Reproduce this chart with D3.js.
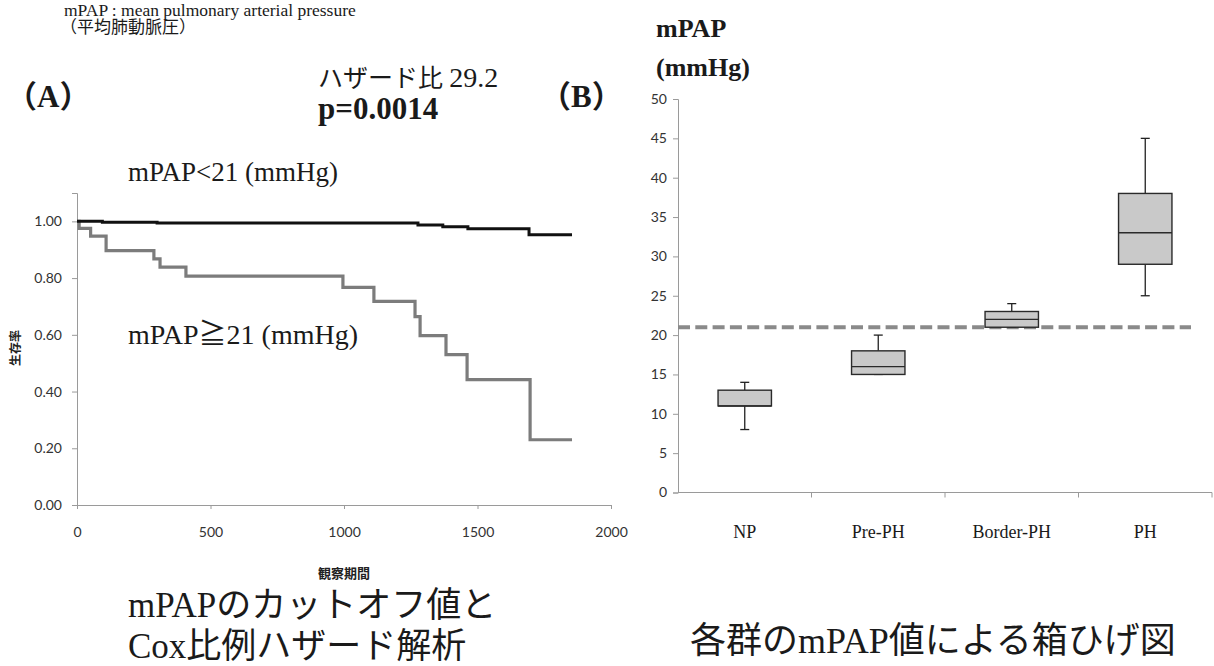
<!DOCTYPE html>
<html>
<head>
<meta charset="utf-8">
<script src="https://cdn.jsdelivr.net/npm/d3@7"></script>
<style>
  html, body { margin: 0; padding: 0; background: #fff; }
  svg { display: block; }
  .serif { font-family: "Liberation Serif", "Noto Sans CJK JP", serif; fill: #1a1a1a; }
  .tick text { font-family: Lato, "Open Sans", sans-serif; fill: #333; }
  .jp-bold { font-family: "Noto Sans CJK JP", sans-serif; font-weight: 700; fill: #222; }
</style>
</head>
<body>
<svg id="chart" width="1214" height="666"></svg>
<script>
// ---- Panel A: Kaplan–Meier survival, split at mPAP 21 mmHg ----
const lowDays  = [0, 95, 300, 1277, 1370, 1464, 1693, 1854];
const lowSurv  = [1.000, 0.997, 0.994, 0.987, 0.981, 0.974, 0.953, 0.953];
const highDays = [0, 8, 51, 109, 288, 311, 408, 996, 1112, 1266, 1285, 1382, 1461, 1697, 1854];
const highSurv = [1.000, 0.975, 0.948, 0.897, 0.868, 0.839, 0.807, 0.767, 0.718, 0.664, 0.597, 0.530, 0.442, 0.230, 0.230];
const survTicks = [0, 0.2, 0.4, 0.6, 0.8, 1.0];
const dayTicks  = [0, 500, 1000, 1500, 2000];

// ---- Panel B: mPAP distribution per group ----
const groups    = ["NP", "Pre-PH", "Border-PH", "PH"];
const whiskerLo = [8, 15, 21, 25];
const q1        = [11, 15, 21, 29];
const median    = [11, 16, 22, 33];
const q3        = [13, 18, 23, 38];
const whiskerHi = [14, 20, 24, 45];
const mpapTicks = [0, 5, 10, 15, 20, 25, 30, 35, 40, 45, 50];
const cutoff    = 21;

const svg = d3.select("#chart");

// ---------- Panel A ----------
const xA = d3.scaleLinear().domain([0, 2000]).range([77, 611]);
const yA = d3.scaleLinear().domain([0, 1.1]).range([505, 193]);

const axisA_y = svg.append("g").attr("transform", `translate(${xA(0)},0)`)
  .call(d3.axisLeft(yA).tickValues(survTicks).tickFormat(d3.format(".2f")).tickSize(5).tickPadding(10));
const axisA_x = svg.append("g").attr("transform", `translate(0,${yA(0)})`)
  .call(d3.axisBottom(xA).tickValues(dayTicks).tickFormat(d3.format("d")).tickSize(4).tickPadding(18));
[axisA_y, axisA_x].forEach(g => {
  g.select(".domain").attr("stroke", "#9a9a9a").attr("stroke-width", 1);
  g.selectAll(".tick line").attr("stroke", "#9a9a9a");
  g.selectAll(".tick text").style("font-size", "14px");
});

const kmLine = d3.line().curve(d3.curveStepAfter).x(d => xA(d[0])).y(d => yA(d[1]));
svg.append("path")
  .datum(d3.zip(highDays, highSurv))
  .attr("d", kmLine).attr("fill", "none")
  .attr("stroke", "#7c7c7c").attr("stroke-width", 3.2);
svg.append("path")
  .datum(d3.zip(lowDays, lowSurv))
  .attr("d", kmLine).attr("fill", "none")
  .attr("stroke", "#111").attr("stroke-width", 3);

svg.append("text").attr("class", "jp-bold")
  .attr("transform", "translate(20,348) rotate(-90)")
  .attr("text-anchor", "middle").style("font-size", "12px").text("生存率");
svg.append("text").attr("class", "jp-bold")
  .attr("x", xA(1000)).attr("y", 578).attr("text-anchor", "middle")
  .style("font-size", "13px").text("観察期間");

svg.append("text").attr("class", "serif").attr("x", 128).attr("y", 181)
  .style("font-size", "27px").text("mPAP<21 (mmHg)");
svg.append("text").attr("class", "serif").attr("x", 128).attr("y", 344)
  .style("font-size", "28px").text("mPAP≧21 (mmHg)");

svg.append("text").attr("class", "serif").attr("x", 6).attr("y", 107)
  .style("font-size", "31px").style("font-weight", "700").text("（A）");
svg.append("text").attr("class", "serif").attr("x", 318).attr("y", 87)
  .style("font-size", "25px").text("ハザード比 ")
  .append("tspan").style("font-size", "28px").text("29.2");
svg.append("text").attr("class", "serif").attr("x", 318).attr("y", 119)
  .style("font-size", "31px").style("font-weight", "700").text("p=0.0014");
svg.append("text").attr("class", "serif").attr("x", 540).attr("y", 107)
  .style("font-size", "31px").style("font-weight", "700").text("（B）");

svg.append("text").attr("class", "serif").attr("x", 64).attr("y", 16)
  .style("font-size", "17.5px").text("mPAP : mean pulmonary arterial pressure");
svg.append("text").attr("class", "serif").attr("x", 60).attr("y", 33)
  .style("font-size", "17px").text("（平均肺動脈圧）");

svg.append("text").attr("class", "serif").attr("x", 128).attr("y", 617)
  .style("font-size", "35px").text("mPAPのカットオフ値と");
svg.append("text").attr("class", "serif").attr("x", 128).attr("y", 658)
  .style("font-size", "35px").text("Cox比例ハザード解析");

// ---------- Panel B ----------
const xB = d3.scaleBand().domain(groups).range([678, 1212]).padding(0);
const yB = d3.scaleLinear().domain([0, 50]).range([492.5, 99]);

const axisB_y = svg.append("g").attr("transform", `translate(${xB.range()[0]},0)`)
  .call(d3.axisLeft(yB).tickValues(mpapTicks).tickSize(5).tickPadding(6));
axisB_y.select(".domain").attr("stroke", "#9a9a9a");
axisB_y.selectAll(".tick line").attr("stroke", "#9a9a9a");
axisB_y.selectAll(".tick text").style("font-size", "14px");

const axisB_x = svg.append("g").attr("transform", `translate(0,${yB(0)})`);
axisB_x.append("line").attr("x1", xB.range()[0]).attr("x2", xB.range()[1])
  .attr("stroke", "#9a9a9a");
axisB_x.selectAll("line.sep").data(groups).join("line").attr("class", "sep")
  .attr("x1", d => xB(d) + xB.bandwidth()).attr("x2", d => xB(d) + xB.bandwidth())
  .attr("y1", 0).attr("y2", 5).attr("stroke", "#9a9a9a");
axisB_x.selectAll("text").data(groups).join("text").attr("class", "serif")
  .attr("x", d => xB(d) + xB.bandwidth() / 2).attr("y", 45)
  .attr("text-anchor", "middle").style("font-size", "18px").text(d => d);

// cutoff reference line
svg.append("line")
  .attr("x1", xB.range()[0]).attr("x2", 1191)
  .attr("y1", yB(cutoff)).attr("y2", yB(cutoff))
  .attr("stroke", "#8a8a8a").attr("stroke-width", 4).attr("stroke-dasharray", "12,5.3");

const boxW = xB.bandwidth() * 0.4;
const capW = 9;
const boxes = svg.append("g").selectAll("g").data(groups).join("g")
  .attr("transform", d => `translate(${xB(d) + xB.bandwidth() / 2},0)`);
boxes.append("line")
  .attr("y1", (d, i) => yB(whiskerHi[i])).attr("y2", (d, i) => yB(q3[i]))
  .attr("stroke", "#222").attr("stroke-width", 1.3);
boxes.append("line")
  .attr("y1", (d, i) => yB(q1[i])).attr("y2", (d, i) => yB(whiskerLo[i]))
  .attr("stroke", "#222").attr("stroke-width", 1.3);
boxes.append("line").attr("x1", -capW / 2).attr("x2", capW / 2)
  .attr("y1", (d, i) => yB(whiskerHi[i])).attr("y2", (d, i) => yB(whiskerHi[i]))
  .attr("stroke", "#222").attr("stroke-width", 1.3);
boxes.append("line").attr("x1", -capW / 2).attr("x2", capW / 2)
  .attr("y1", (d, i) => yB(whiskerLo[i])).attr("y2", (d, i) => yB(whiskerLo[i]))
  .attr("stroke", "#222").attr("stroke-width", 1.3);
boxes.append("rect")
  .attr("x", -boxW / 2).attr("width", boxW)
  .attr("y", (d, i) => yB(q3[i])).attr("height", (d, i) => yB(q1[i]) - yB(q3[i]))
  .attr("fill", "#c9c9c9").attr("stroke", "#2a2a2a").attr("stroke-width", 1.4);
boxes.append("line").attr("x1", -boxW / 2).attr("x2", boxW / 2)
  .attr("y1", (d, i) => yB(median[i])).attr("y2", (d, i) => yB(median[i]))
  .attr("stroke", "#2a2a2a").attr("stroke-width", 1.4);

svg.append("text").attr("class", "serif").attr("x", 656).attr("y", 37)
  .style("font-size", "26px").style("font-weight", "700").text("mPAP");
svg.append("text").attr("class", "serif").attr("x", 656).attr("y", 76)
  .style("font-size", "26px").style("font-weight", "700").text("(mmHg)");

svg.append("text").attr("class", "serif").attr("x", 690).attr("y", 653)
  .style("font-size", "36px").text("各群のmPAP値による箱ひげ図");
</script>
</body>
</html>
